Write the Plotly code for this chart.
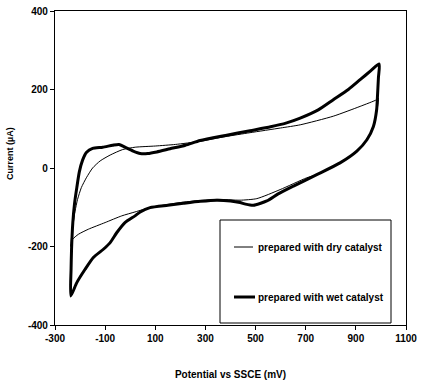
import plotly.graph_objects as go

# Cyclic voltammograms: potential (mV vs SSCE) and current (uA), one closed loop each
dry_potential = [-237, -233, -227, -220, -210, -195, -175, -150, -120, -80, -30, 20, 100,
                 180, 279, 380, 478, 600, 678, 810, 917, 983, 990,
                 985, 970, 944, 904, 837, 744, 704, 598, 505, 438, 345, 212, 79, 19,
                 -34, -100, -167, -207, -230, -237]
dry_current = [-200, -170, -140, -110, -80, -50, -25, 0, 18, 33, 47, 53, 56,
               60, 68, 80, 90, 102, 110, 132, 157, 174, 178,
               150, 106, 72, 43, 13, -17, -25, -55, -78, -82, -80, -87, -101, -112,
               -122, -139, -156, -169, -182, -200]

wet_potential = [-237, -236, -234, -229, -222, -213, -203, -190, -174, -150, -110, -70, -45,
                 -21, 12, 40, 70, 106, 159, 220, 279, 380, 478, 560, 624, 678, 750, 810,
                 870, 917, 960, 993,
                 990, 986, 983, 970, 944, 904, 837, 744, 651, 590, 545, 491, 460, 438,
                 400, 345, 280, 212, 150, 79, 40, 19, -21, -54, -80, -107, -147, -180,
                 -213, -237]
wet_current = [-326, -260, -207, -140, -90, -50, -10, 20, 40, 50, 53, 58, 60,
               53, 43, 37, 37, 41, 49, 58, 70, 83, 95, 105, 115, 127, 148, 174,
               200, 225, 248, 265,
               230, 180, 149, 106, 72, 43, 13, -17, -46, -66, -84, -95, -92, -88,
               -84, -82, -85, -90, -95, -101, -112, -122, -139, -165, -190, -207, -228, -258,
               -292, -326]

x_ticks = [-300, -100, 100, 300, 500, 700, 900, 1100]
y_ticks = [-400, -200, 0, 200, 400]

series_names = ["prepared with dry catalyst", "prepared with wet catalyst"]

W, H = 421, 389
M_L, M_R, M_T, M_B = 55, 15, 11, 64
FONT = "Liberation Sans, Arial, sans-serif"

fig = go.Figure()
fig.add_trace(go.Scatter(x=dry_potential, y=dry_current, mode="lines", name=series_names[0],
                         line=dict(color="black", width=1, shape="spline", smoothing=0.6)))
fig.add_trace(go.Scatter(x=wet_potential, y=wet_current, mode="lines", name=series_names[1],
                         line=dict(color="black", width=3, shape="spline", smoothing=0.6)))

axis_common = dict(showline=True, linecolor="black", linewidth=1.2, mirror=True,
                   ticks="outside", ticklen=4, tickcolor="black", tickwidth=1,
                   showgrid=False, zeroline=False,
                   tickfont=dict(family=FONT, size=10, color="black", weight="bold"))

fig.update_xaxes(range=[-300, 1100], tickvals=x_ticks, ticktext=[str(v) for v in x_ticks],
                 title=dict(text="Potential vs SSCE (mV)", standoff=27,
                            font=dict(family=FONT, size=10, color="black", weight="bold")),
                 **axis_common)
fig.update_yaxes(range=[-400, 400], tickvals=y_ticks, ticktext=[str(v) for v in y_ticks],
                 **axis_common)


# Legend drawn as a framed box in paper coordinates (pixel positions converted)
def px(xp):
    return (xp - M_L) / (W - M_L - M_R)


def py(yp):
    return (H - M_B - yp) / (H - M_T - M_B)


shapes = [
    dict(type="rect", xref="paper", yref="paper", x0=px(220), x1=px(391), y0=py(323), y1=py(220),
         line=dict(color="black", width=1), fillcolor="white", layer="above"),
    dict(type="line", xref="paper", yref="paper", x0=px(234), x1=px(253), y0=py(247), y1=py(247),
         line=dict(color="black", width=1), layer="above"),
    dict(type="line", xref="paper", yref="paper", x0=px(234), x1=px(255), y0=py(297), y1=py(297),
         line=dict(color="black", width=3), layer="above"),
]
annotations = [
    dict(text=series_names[0], xref="paper", yref="paper", x=px(256), y=py(247),
         xanchor="left", yanchor="middle", showarrow=False,
         font=dict(family=FONT, size=10, color="black", weight="bold")),
    dict(text=series_names[1], xref="paper", yref="paper", x=px(256), y=py(297),
         xanchor="left", yanchor="middle", showarrow=False,
         font=dict(family=FONT, size=10, color="black", weight="bold")),
    # y-axis title
    dict(text="Current (\u00b5A)", xref="paper", yref="paper", x=px(10), y=py(154),
         xanchor="center", yanchor="middle", textangle=-90, showarrow=False,
         font=dict(family=FONT, size=9, color="black", weight="bold")),
]

fig.update_layout(width=W, height=H, margin=dict(l=M_L, r=M_R, t=M_T, b=M_B, autoexpand=False),
                  plot_bgcolor="white", paper_bgcolor="white", showlegend=False,
                  shapes=shapes, annotations=annotations)

fig.write_html("out.html")
